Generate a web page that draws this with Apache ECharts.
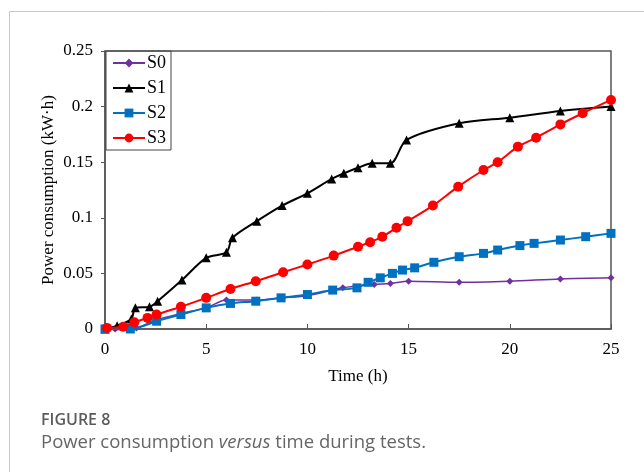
<!DOCTYPE html>
<html>
<head>
<meta charset="utf-8">
<script src="https://cdn.jsdelivr.net/npm/echarts@6/dist/echarts.min.js"></script>
<style>
  html, body { margin: 0; padding: 0; background: #fff; }
  #chart-container { width: 644px; height: 472px; }
</style>
</head>
<body>
<div id="chart-container"></div>
<script>
// series names
const seriesNames = ['S0', 'S1', 'S2', 'S3'];

// [time (h), power consumption (kW·h)]
const s0 = [[0,0],[0.5,0],[1.55,0.001],[2.5,0.008],[3.75,0.014],[5,0.019],[6,0.026],[7.5,0.026],[8.75,0.028],[10,0.03],[11.75,0.037],[13.3,0.04],[14.1,0.041],[15,0.043],[17.5,0.042],[20,0.043],[22.5,0.045],[25,0.046]];
const s1 = [[0,0],[0.6,0.003],[1.3,0.009],[1.5,0.019],[2.2,0.02],[2.6,0.025],[3.8,0.044],[5,0.064],[6,0.069],[6.3,0.082],[7.5,0.097],[8.75,0.111],[10,0.122],[11.2,0.135],[11.8,0.14],[12.5,0.145],[13.2,0.149],[14.1,0.149],[14.9,0.17],[17.5,0.185],[20,0.19],[22.5,0.196],[25,0.2]];
const s2 = [[0,0],[1.25,0],[2.55,0.007],[3.75,0.013],[5,0.019],[6.2,0.023],[7.45,0.025],[8.7,0.028],[10,0.031],[11.25,0.035],[12.45,0.037],[13,0.042],[13.6,0.046],[14.2,0.05],[14.7,0.053],[15.3,0.055],[16.25,0.06],[17.5,0.065],[18.7,0.068],[19.4,0.071],[20.5,0.075],[21.2,0.077],[22.5,0.08],[23.75,0.083],[25,0.086]];
const s3 = [[0.1,0.001],[0.9,0.002],[1.45,0.006],[2.1,0.01],[2.55,0.013],[3.75,0.02],[5,0.028],[6.2,0.036],[7.45,0.043],[8.8,0.051],[10,0.058],[11.3,0.066],[12.5,0.074],[13.1,0.078],[13.7,0.083],[14.4,0.091],[14.95,0.097],[16.2,0.111],[17.45,0.128],[18.7,0.143],[19.4,0.15],[20.4,0.164],[21.3,0.172],[22.5,0.184],[23.6,0.194],[25,0.206]];

const colors = ['#7030A0', '#000000', '#0070C0', '#FF0000'];
const symbols = ['diamond', 'triangle', 'rect', 'circle'];
const symbolSizes = [7, 9, 9, 10];
const allData = [s0, s1, s2, s3];

const serif = '"Liberation Serif", "Times New Roman", serif';

const myChart = echarts.init(document.getElementById('chart-container'));

const option = {
  animation: false,
  grid: {
    left: 105, right: 33, top: 51, bottom: 143,
    show: true, borderColor: '#555', borderWidth: 1.5
  },
  legend: {
    left: 106, top: 51,
    orient: 'vertical',
    data: seriesNames,
    borderColor: '#444', borderWidth: 1,
    padding: [3, 5, 3, 6],
    itemGap: 7,
    itemWidth: 32, itemHeight: 11,
    textStyle: { fontFamily: serif, fontSize: 18, color: '#000', padding: [0, 0, 0, -3] }
  },
  xAxis: {
    type: 'value',
    min: 0, max: 25, interval: 5,
    name: 'Time (h)',
    nameLocation: 'middle',
    nameGap: 39,
    nameTextStyle: { fontFamily: serif, fontSize: 17, color: '#000' },
    axisLine: { lineStyle: { color: '#555', width: 1.5 } },
    axisTick: { inside: true, length: 5, lineStyle: { color: '#555' } },
    axisLabel: { fontFamily: serif, fontSize: 17, color: '#000', margin: 12 },
    splitLine: { show: false }
  },
  yAxis: {
    type: 'value',
    min: 0, max: 0.25, interval: 0.05,
    name: 'Power consumption (kW·h)',
    nameLocation: 'middle',
    nameRotate: 90,
    nameGap: 48,
    nameMoveOverlap: false,
    nameTextStyle: { fontFamily: serif, fontSize: 17, color: '#000' },
    axisLine: { lineStyle: { color: '#555', width: 1.5 } },
    axisTick: { length: 4, lineStyle: { color: '#555' } },
    axisLabel: { fontFamily: serif, fontSize: 17, color: '#000', margin: 12 },
    splitLine: { show: false }
  },
  series: allData.map((d, i) => ({
    name: seriesNames[i],
    type: 'line',
    data: d,
    smooth: 0.3,
    symbol: symbols[i],
    symbolSize: symbolSizes[i],
    showAllSymbol: true,
    lineStyle: { color: colors[i], width: i === 0 ? 1.5 : 2 },
    itemStyle: { color: colors[i] },
    z: 2 + i
  })),
  graphic: [
    {
      type: 'polyline',
      shape: { points: [[9.5, 472], [9.5, 11.5], [644, 11.5]] },
      style: { stroke: '#c8c8c8', lineWidth: 1, fill: null }
    },
    {
      type: 'text', left: 41, top: 412,
      style: { text: 'FIGURE 8', font: '600 16px "Open Sans", sans-serif', fill: '#5c5c5c' }
    },
    {
      type: 'text', left: 41, top: 433,
      style: {
        text: '{n|Power consumption }{i|versus}{n| time during tests.}',
        rich: {
          n: { fontFamily: '"Open Sans", sans-serif', fontSize: 18.5, fill: '#666', color: '#666' },
          i: { fontFamily: '"Open Sans", sans-serif', fontSize: 18.5, fontStyle: 'italic', fill: '#666', color: '#666' }
        }
      }
    }
  ]
};

myChart.setOption(option);
</script>
</body>
</html>
